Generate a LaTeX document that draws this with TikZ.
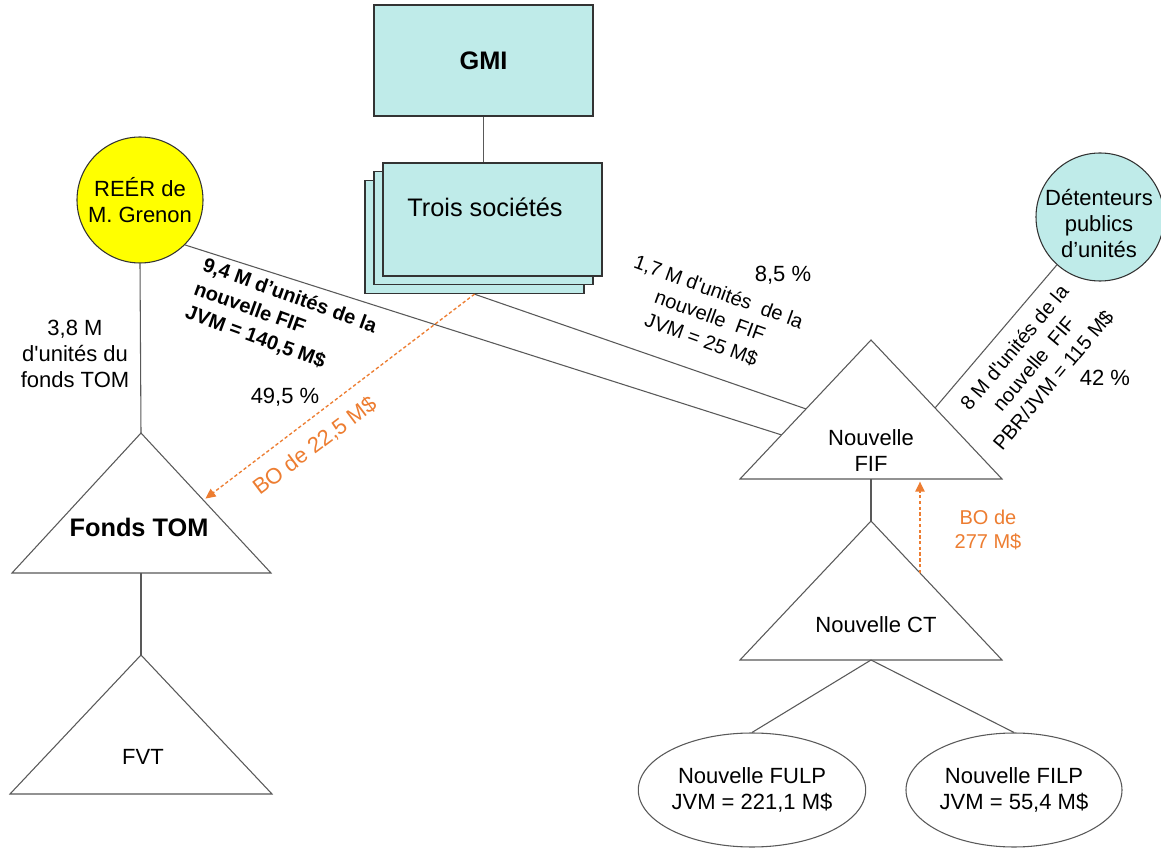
\documentclass[tikz,border=0pt]{standalone}
\usepackage{fontspec}
\setmainfont{Liberation Sans}[Ligatures=TeXOff]
\usetikzlibrary{shapes.geometric,arrows.meta,calc}

\definecolor{boxfill}{RGB}{191,235,233}
\definecolor{boxedge}{RGB}{51,51,51}
\definecolor{edge}{RGB}{89,89,89}
\definecolor{bo}{RGB}{237,125,49}
\definecolor{reerfill}{RGB}{255,255,0}

\begin{document}
\begin{tikzpicture}[x=0.75pt,y=-0.75pt,
  link/.style={draw=edge, line width=0.8pt},
  tri/.style={draw=edge, line width=0.8pt},
  corpbox/.style={draw=boxedge, fill=boxfill, line width=1pt, inner sep=0pt},
  stackbox/.style={minimum width=164.25pt, minimum height=84.75pt},
  holder/.style={circle, draw=boxedge, line width=0.8pt, inner sep=0pt, align=center},
  fund/.style={ellipse, draw=edge, line width=0.8pt, inner sep=0pt, align=center,
    minimum width=162pt, minimum height=85.5pt, font=\fontsize{16.5}{19}\selectfont},
  txt/.style={inner sep=0pt, align=center, font=\fontsize{16.5}{19.5}\selectfont},
  rotlbl/.style={inner sep=0pt, align=center, font=\fontsize{15}{19}\selectfont},
  boarrow/.style={draw=bo, line width=1pt, dash pattern=on 2.5pt off 1.8pt,
    -{Triangle[length=7.5pt,width=7pt]}, shorten >=2pt},
  botxt/.style={inner sep=0pt, align=center, text=bo}
]
\fill[white] (0,0) rectangle (1161,848);
\useasboundingbox (0,0) rectangle (1161,848);

% --- GMI and the three companies (stacked boxes)
\node[corpbox, minimum width=164.25pt, minimum height=83.25pt,
  font=\bfseries\fontsize{19}{22}\selectfont] (gmi) at (483.5,60.5) {GMI};
\node[corpbox, stackbox] (trois3) at (474.5,237) {};
\node[corpbox, stackbox] (trois2) at (483.5,228) {};
\node[corpbox, stackbox] (trois1) at (492.5,219.5) {};
\node[inner sep=0pt, font=\fontsize{19}{22}\selectfont] (troisT) at (485,207) {Trois sociétés};

% --- holders
\node[holder, fill=reerfill, minimum size=94.5pt, font=\fontsize{16.5}{19.5}\selectfont]
  (reer) at (140,200) {REÉR de\\M. Grenon};
\node[holder, fill=boxfill, minimum size=96pt] (det) at (1100,217) {};
\node[txt] (detT) at (1099,224) {Détenteurs\\publics\\d’unités};

% --- triangle corners
\coordinate (tomA) at (141,433); \coordinate (tomL) at (12,573);
\coordinate (tomR) at (271,573); \coordinate (tomB) at (141,573);
\coordinate (fvtA) at (141,655); \coordinate (fvtL) at (10,794);
\coordinate (fvtR) at (272,794);
\coordinate (fifA) at (871,340); \coordinate (fifL) at (740,479);
\coordinate (fifR) at (1002,479); \coordinate (fifB) at (871,479);
\coordinate (ctA) at (871,521); \coordinate (ctL) at (740,660);
\coordinate (ctR) at (1002,660); \coordinate (ctB) at (871,660);

\draw[tri] (tomA) -- (tomL) -- (tomR) -- cycle;
\draw[tri] (fvtA) -- (fvtL) -- (fvtR) -- cycle;
\draw[tri] (fifA) -- (fifL) -- (fifR) -- cycle;
\draw[tri] (ctA) -- (ctL) -- (ctR) -- cycle;

\node[txt, font=\bfseries\fontsize{19}{22}\selectfont] (tomT) at (139,527) {Fonds TOM};
\node[txt] (fvtT) at (143,757) {FVT};
\node[txt] (fifT) at (871,451) {Nouvelle\\FIF};
\node[txt] (ctT) at (876,625) {Nouvelle CT};

% --- partnerships
\node[fund] (fulp) at (752,790) {Nouvelle FULP\\JVM = 221,1 M\$};
\node[fund] (filp) at (1014,790) {Nouvelle FILP\\JVM = 55,4 M\$};

% --- points on triangle sides
\coordinate (fifE1) at ($(fifA)!0.496!(fifL)$);
\coordinate (fifE2) at ($(fifA)!0.683!(fifL)$);
\coordinate (fifE3) at ($(fifA)!0.489!(fifR)$);
\coordinate (tomE) at ($(tomA)!0.48!(tomR)$);
\coordinate (ctE) at ($(ctA)!0.374!(ctR)$);

% --- ownership links
\draw[link] (gmi.south) -- (gmi.south |- trois1.north);
\draw[link] (reer.south) -- (tomA);
\draw[link] (tomB) -- (fvtA);
\draw[link] (trois3.south) -- (fifE1);
\draw[link] (reer.-45) -- (fifE2);
\draw[link] (det.228) -- (fifE3);
\draw[link] (fifB) -- (ctA);
\draw[link] (ctB) -- (fulp.north);
\draw[link] (ctB) -- (filp.north);

% --- promissory notes
\draw[boarrow] (trois3.south) -- (tomE);
\draw[boarrow] (ctE) -- (ctE |- fifL);

% --- labels
\node[txt] (l38) at (75,354) {3,8 M\\d'unités du\\fonds TOM};
\node[rotlbl, align=left, font=\bfseries\fontsize{15}{19}\selectfont, rotate=-20]
  (l94) at (281,320) {9,4 M d’unités de la\\nouvelle FIF\\JVM = 140,5 M\$};
\node[txt] (p495) at (285,397) {49,5 \%};
\node[rotlbl, rotate=-20] (l17) at (710,316) {1,7 M d'unités\ \ de la\\nouvelle\ \ FIF\\JVM = 25 M\$};
\node[txt] (p85) at (783,275) {8,5 \%};
\node[rotlbl, rotate=50] (l8) at (1034,364) {8 M d'unités de la\\nouvelle\ \ FIF\\PBR/JVM = 115 M\$};
\node[txt] (p42) at (1105,378) {42 \%};
\node[botxt, font=\fontsize{16.5}{19.5}\selectfont, rotate=37] (bo1) at (315,446) {BO de 22,5 M\$};
\node[botxt, font=\fontsize{15}{18}\selectfont] (bo2) at (988,530) {BO de\\277 M\$};
\end{tikzpicture}
\end{document}
